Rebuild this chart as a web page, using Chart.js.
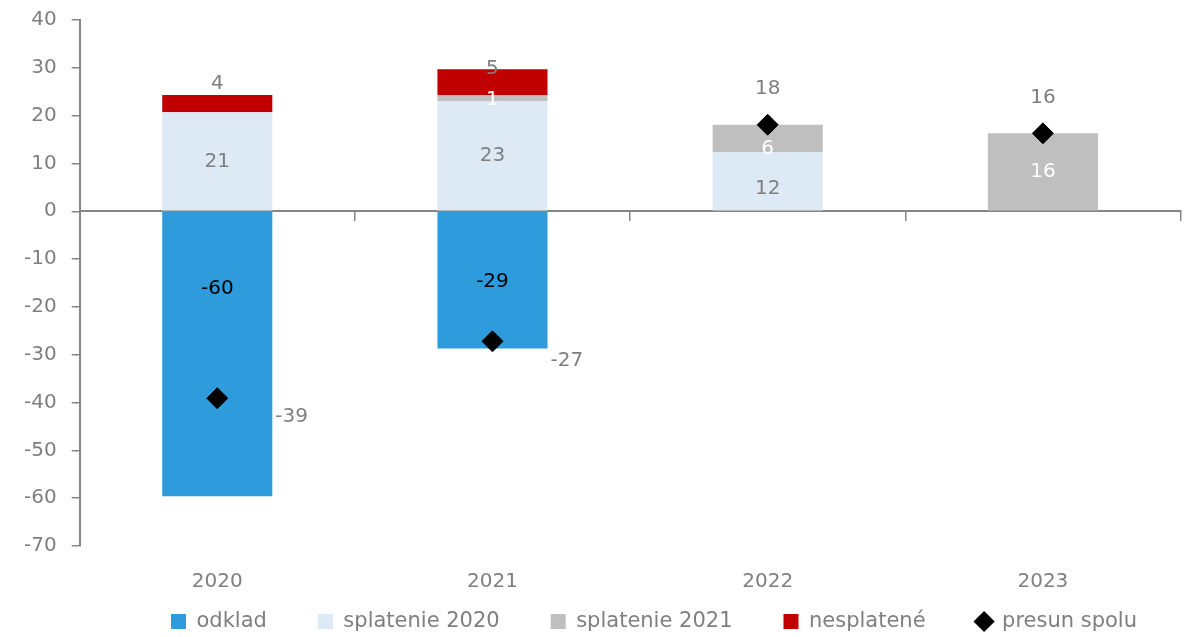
<!DOCTYPE html>
<html>
<head>
<meta charset="utf-8">
<script src="https://cdn.jsdelivr.net/npm/chart.js@4"></script>
<style>
  html, body { margin: 0; padding: 0; background: #fff; }
  #wrap { width: 1192px; height: 637px; }
</style>
</head>
<body>
<div id="wrap"><canvas id="theChart"></canvas></div>
<script>
const categories = ["2020", "2021", "2022", "2023"];
const odklad = [-59.6, -28.7, null, null];
const splatenie2020 = [20.7, 23.0, 12.4, null];
const splatenie2021 = [null, 1.3, 5.7, 16.3];
const nesplatene = [3.6, 5.4, null, null];
const presunSpolu = [-39.1, -27.2, 18.1, 16.3];
const yTicks = [-70, -60, -50, -40, -30, -20, -10, 0, 10, 20, 30, 40];

const gray = "#7f7f7f";
const axisGray = "#868686";
const fontFamily = '"DejaVu Sans", sans-serif';

// how each dataset's value labels are drawn (shift = pixel nudge per category)
const labelStyles = [
  { color: "#000000", place: "center", shift: [-65, 2, 0, 0] },
  { color: gray, place: "center", shift: [0, 0, 8, 0] },
  { color: "#ffffff", place: "center", shift: [0, 2, 10, 0] },
  { color: gray, place: "top", shift: [-11, 0, 0, 0] },
  { color: gray, place: "marker", shift: [0, 0, 0, 0] },
];

const valueLabels = {
  id: "valueLabels",
  afterDatasetsDraw(chart) {
    const ctx = chart.ctx;
    ctx.save();
    ctx.font = "20px " + fontFamily;
    ctx.textBaseline = "middle";
    chart.data.datasets.forEach((ds, i) => {
      const meta = chart.getDatasetMeta(i);
      const st = labelStyles[i];
      meta.data.forEach((el, j) => {
        const v = ds.data[j];
        if (v === null || v === undefined) return;
        const text = String(Math.round(v));
        ctx.fillStyle = st.color;
        if (st.place === "center") {
          ctx.textAlign = "center";
          ctx.fillText(text, el.x, (el.y + el.base) / 2 + st.shift[j]);
        } else if (st.place === "top") {
          ctx.textAlign = "center";
          ctx.fillText(text, el.x, el.y + st.shift[j]);
        } else if (v >= 0) {
          ctx.textAlign = "center";
          ctx.fillText(text, el.x, el.y - 36);
        } else {
          ctx.textAlign = "left";
          ctx.fillText(text, el.x + 58, el.y + 19);
        }
      });
    });
    ctx.restore();
  },
};

const barBase = { type: "bar", stack: "s", borderWidth: 0, order: 1, barPercentage: 0.4, categoryPercentage: 1 };

const data = {
  labels: categories,
  datasets: [
    { ...barBase, label: "odklad", data: odklad, backgroundColor: "#2e9bdc" },
    { ...barBase, label: "splatenie 2020", data: splatenie2020, backgroundColor: "#dde9f5" },
    { ...barBase, label: "splatenie 2021", data: splatenie2021, backgroundColor: "#bfbfbf" },
    { ...barBase, label: "nesplatené", data: nesplatene, backgroundColor: "#c00000" },
    {
      type: "line",
      label: "presun spolu",
      data: presunSpolu,
      showLine: false,
      order: 0,
      pointStyle: "rectRot",
      pointRadius: 10.5,
      pointHoverRadius: 10.5,
      backgroundColor: "#000000",
      borderColor: "#000000",
    },
  ],
};

const config = {
  data,
  options: {
    responsive: true,
    maintainAspectRatio: false,
    animation: false,
    layout: { padding: { top: 0, left: 9, right: 4, bottom: -5 } },
    plugins: {
      tooltip: { enabled: false },
      legend: {
        position: "bottom",
        align: "end",
        labels: {
          usePointStyle: true,
          boxHeight: 15,
          boxWidth: 15,
          padding: 51,
          color: gray,
          font: { family: fontFamily, size: 21 },
          sort: (a, b) => a.datasetIndex - b.datasetIndex,
          generateLabels(chart) {
            const items = Chart.defaults.plugins.legend.labels.generateLabels(chart);
            items.forEach((it) => {
              it.pointStyle = it.datasetIndex === 4 ? "rectRot" : "rect";
              it.lineWidth = 0;
            });
            return items;
          },
        },
      },
    },
    scales: {
      x: {
        type: "category",
        position: "bottom",
        grid: { display: false },
        border: { display: false },
        ticks: { color: gray, mirror: true, padding: -48, font: { family: fontFamily, size: 20 } },
        afterFit(scale) {
          scale.height = 14;
        },
      },
      x2: {
        type: "category",
        axis: "x",
        position: { y: 0 },
        offset: true,
        grid: { offset: true, drawOnChartArea: false, tickLength: 9, color: axisGray, lineWidth: 1.5 },
        border: { display: true, color: axisGray, width: 2 },
        ticks: { display: false },
      },
      y: {
        stacked: true,
        min: -70,
        max: 40,
        afterBuildTicks(scale) {
          scale.ticks = yTicks.map((v) => ({ value: v }));
        },
        afterFit(scale) {
          scale.paddingTop = 20;
          scale.paddingBottom = 12;
        },
        grid: { drawOnChartArea: false, tickLength: 8, color: axisGray, lineWidth: 1.5 },
        border: { display: true, color: axisGray, width: 2 },
        ticks: { color: gray, padding: 15, font: { family: fontFamily, size: 20 } },
      },
    },
  },
  plugins: [valueLabels],
};

const myChart = new Chart(document.getElementById("theChart"), config);
</script>
</body>
</html>
